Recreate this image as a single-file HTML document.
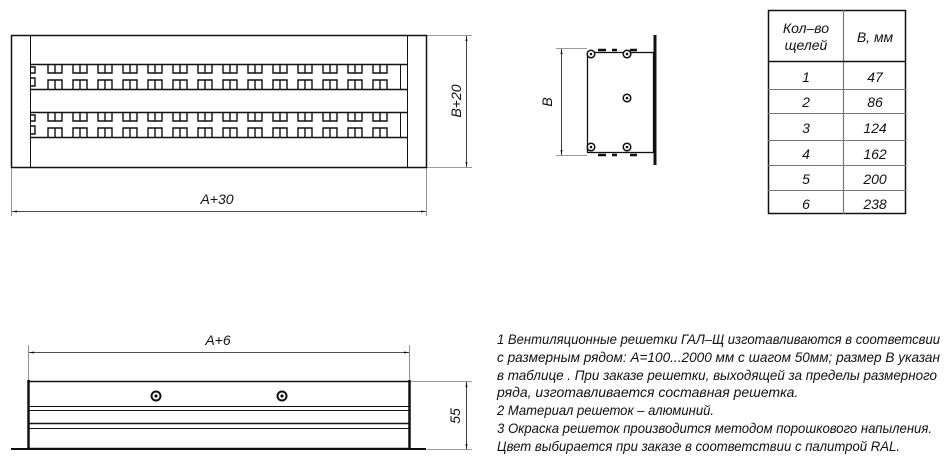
<!DOCTYPE html>
<html><head><meta charset="utf-8"><style>
html,body{margin:0;padding:0;background:#fff;width:951px;height:469px;overflow:hidden}
svg{display:block}
text{font-family:"Liberation Sans","DejaVu Sans",sans-serif;font-style:italic;fill:#111}
</style></head><body>
<svg id="s" width="951" height="469" viewBox="0 0 951 469" xmlns="http://www.w3.org/2000/svg">
<defs>
<marker id="a" viewBox="0 0 10 10" refX="10" refY="5" markerWidth="10" markerHeight="5" orient="auto-start-reverse" markerUnits="userSpaceOnUse"><path d="M0,3 L10,5 L0,7 z" fill="#111"/></marker>
</defs>
<g stroke="#111" fill="none">
<rect x="11.5" y="35.5" width="415" height="132" stroke-width="1.5"/>
<line x1="30.5" y1="35" x2="30.5" y2="167"/>
<line x1="407.5" y1="35" x2="407.5" y2="167"/>
<line x1="30" y1="64.5" x2="407" y2="64.5" stroke-width="1.5"/>
<line x1="30" y1="89.5" x2="407" y2="89.5" stroke-width="1.5"/>
<line x1="30" y1="112.5" x2="407" y2="112.5" stroke-width="1.5"/>
<line x1="30" y1="137.5" x2="407" y2="137.5" stroke-width="1.5"/>
<line x1="400.5" y1="64" x2="400.5" y2="89"/>
<line x1="400.5" y1="112" x2="400.5" y2="137"/>
<g id="slots"></g>
<g stroke="#777" stroke-width="0.8">
<line x1="427" y1="35.5" x2="472" y2="35.5"/>
<line x1="427" y1="167.5" x2="472" y2="167.5"/>
<line x1="11.5" y1="168" x2="11.5" y2="216"/>
<line x1="426.5" y1="168" x2="426.5" y2="216"/>
</g>
<line x1="466.5" y1="36" x2="466.5" y2="167" stroke-width="0.8" marker-start="url(#a)" marker-end="url(#a)"/>
<line x1="12" y1="211.5" x2="426" y2="211.5" stroke-width="0.8" marker-start="url(#a)" marker-end="url(#a)"/>

<line x1="655" y1="35" x2="655" y2="165" stroke-width="3"/>
<rect x="587.5" y="52.5" width="66" height="100" stroke-width="1.3"/>
<line x1="598" y1="50" x2="606" y2="50" stroke-width="2.5"/>
<line x1="612" y1="50" x2="617" y2="50" stroke-width="2.5"/>
<line x1="630" y1="50" x2="637" y2="50" stroke-width="2.5"/>
<line x1="598" y1="155" x2="606" y2="155" stroke-width="2.5"/>
<line x1="612" y1="155" x2="617" y2="155" stroke-width="2.5"/>
<line x1="630" y1="155" x2="637" y2="155" stroke-width="2.5"/>
<g stroke="#777" stroke-width="0.8">
<line x1="556" y1="48.5" x2="587" y2="48.5"/>
<line x1="556" y1="155.5" x2="587" y2="155.5"/>
</g>
<line x1="561.5" y1="49" x2="561.5" y2="155" stroke-width="0.8" marker-start="url(#a)" marker-end="url(#a)"/>
<g stroke-width="1.5" fill="#fff">
<circle cx="591" cy="54" r="3.8"/><circle cx="627" cy="54" r="3.8"/>
<circle cx="627" cy="98" r="3.8"/><circle cx="591" cy="147" r="3.8"/><circle cx="627" cy="147" r="3.8"/>
</g>
<g fill="#111" stroke="none">
<circle cx="591" cy="54" r="1.3"/><circle cx="627" cy="54" r="1.3"/>
<circle cx="627" cy="98" r="1.3"/><circle cx="591" cy="147" r="1.3"/><circle cx="627" cy="147" r="1.3"/>
<circle cx="156" cy="396" r="1.6"/><circle cx="282" cy="396" r="1.6"/>
</g>

<rect x="28.5" y="381.5" width="381" height="67" stroke-width="1.5"/>
<line x1="11" y1="449" x2="426" y2="449" stroke-width="2"/>
<line x1="28.5" y1="380" x2="28.5" y2="449" stroke-width="2.5"/>
<line x1="409.5" y1="380" x2="409.5" y2="449" stroke-width="2.5"/>
<line x1="29" y1="406.5" x2="409" y2="406.5"/>
<line x1="29" y1="410.5" x2="409" y2="410.5"/>
<line x1="29" y1="423.5" x2="409" y2="423.5" stroke-width="1.5"/>
<line x1="29" y1="428.5" x2="409" y2="428.5"/>
<g stroke-width="2"><circle cx="156" cy="396" r="4.5"/><circle cx="282" cy="396" r="4.5"/></g>
<g stroke="#777" stroke-width="0.8">
<line x1="28.5" y1="345" x2="28.5" y2="380"/>
<line x1="409.5" y1="345" x2="409.5" y2="380"/>
<line x1="411" y1="381.5" x2="472" y2="381.5"/>
<line x1="427" y1="449.5" x2="472" y2="449.5"/>
</g>
<line x1="29" y1="352.5" x2="409" y2="352.5" stroke-width="0.8" marker-start="url(#a)" marker-end="url(#a)"/>
<line x1="466.5" y1="382" x2="466.5" y2="449" stroke-width="0.8" marker-start="url(#a)" marker-end="url(#a)"/>

<rect x="768.5" y="10.5" width="137" height="203" stroke-width="1.5"/>
<line x1="843.5" y1="10" x2="843.5" y2="214" stroke="#777" stroke-width="1.2"/>
<line x1="768" y1="61.5" x2="906" y2="61.5" stroke-width="1.5"/>
<g stroke="#777"><line x1="768" y1="89.5" x2="906" y2="89.5"/>
<line x1="768" y1="113.5" x2="906" y2="113.5"/>
<line x1="768" y1="140.5" x2="906" y2="140.5"/>
<line x1="768" y1="165.5" x2="906" y2="165.5"/>
<line x1="768" y1="190.5" x2="906" y2="190.5"/></g>
</g>

<g font-size="14">
<text transform="translate(461,101) rotate(-90)" text-anchor="middle">B+20</text>
<text x="217" y="204" text-anchor="middle">A+30</text>
<text transform="translate(552,102) rotate(-90)" text-anchor="middle">B</text>
<text x="218" y="345" text-anchor="middle">A+6</text>
<text transform="translate(460,416) rotate(-90)" text-anchor="middle">55</text>
<text x="806" y="33" text-anchor="middle">Кол–во</text>
<text x="806" y="50" text-anchor="middle">щелей</text>
<text x="875" y="42" text-anchor="middle">B, мм</text>
<text x="806" y="82" text-anchor="middle">1</text><text x="875" y="82" text-anchor="middle">47</text>
<text x="806" y="107" text-anchor="middle">2</text><text x="875" y="107" text-anchor="middle">86</text>
<text x="806" y="133" text-anchor="middle">3</text><text x="875" y="133" text-anchor="middle">124</text>
<text x="806" y="159" text-anchor="middle">4</text><text x="875" y="159" text-anchor="middle">162</text>
<text x="806" y="184" text-anchor="middle">5</text><text x="875" y="184" text-anchor="middle">200</text>
<text x="806" y="209" text-anchor="middle">6</text><text x="875" y="209" text-anchor="middle">238</text>
</g>
<g font-size="14">
<text x="497" y="344" textLength="443" lengthAdjust="spacingAndGlyphs">1 Вентиляционные решетки ГАЛ–Щ изготавливаются в соответсвии</text>
<text x="497" y="362" textLength="443" lengthAdjust="spacingAndGlyphs">с размерным рядом: A=100...2000 мм с шагом 50мм; размер B указан</text>
<text x="497" y="380" textLength="440" lengthAdjust="spacingAndGlyphs">в таблице . При заказе решетки, выходящей за пределы размерного</text>
<text x="497" y="397">ряда, изготавливается составная решетка.</text>
<text x="497" y="415" textLength="217" lengthAdjust="spacingAndGlyphs">2 Материал решеток – алюминий.</text>
<text x="497" y="433" textLength="435" lengthAdjust="spacingAndGlyphs">3 Окраска решеток производится методом порошкового напыления.</text>
<text x="497" y="451" textLength="403" lengthAdjust="spacingAndGlyphs">Цвет выбирается при заказе в соответствии с палитрой RAL.</text>
</g>
</svg>
<script>
var g=document.getElementById('slots'),h='';
[64,112].forEach(function(t){
 for(var i=0;i<14;i++){var x=48+i*25;
  h+='<path d="M'+x+' '+t+'V'+(t+9)+'H'+(x+14)+'V'+t+'M'+(x+7)+' '+t+'V'+(t+9)+'"/>';
  h+='<path d="M'+x+' '+(t+25)+'V'+(t+16)+'H'+(x+14)+'V'+(t+25)+'M'+(x+7)+' '+(t+16)+'V'+(t+25)+'"/>';
 }
 h+='<path d="M31 '+(t+3)+'H35V'+(t+9)+'H31M31 '+(t+14)+'H35V'+(t+22)+'H31"/>';
});
g.innerHTML=h;g.setAttribute('stroke-width','1.4');
</script>
</body></html>
